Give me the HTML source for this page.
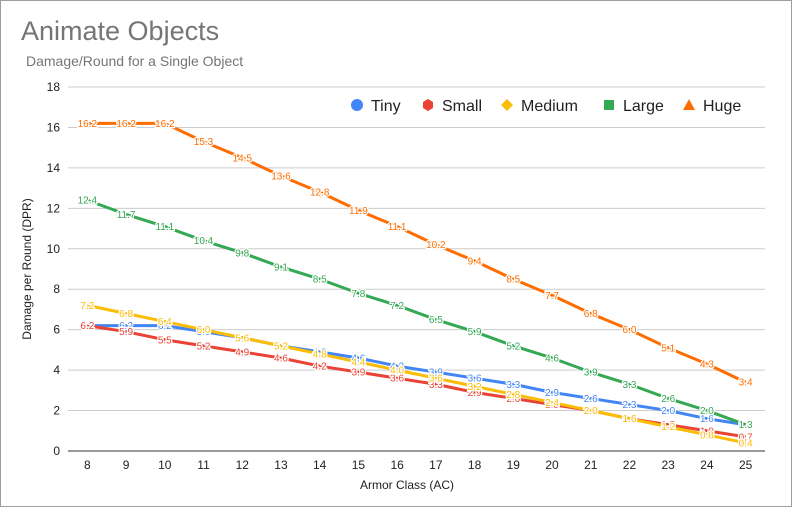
<!DOCTYPE html>
<html><head><meta charset="utf-8"><style>
body{margin:0;background:#fff;font-family:"Liberation Sans",Arial,sans-serif}
#wrap{position:relative;width:792px;height:507px}
</style></head><body>
<div id="wrap">
<svg id="chart" width="792" height="507">
<rect x="0.5" y="0.5" width="791" height="506" fill="#fff" stroke="#9e9e9e"/>
<text x="21" y="40" font-size="27" fill="#757575">Animate Objects</text>
<text x="26" y="66" font-size="14" fill="#757575">Damage/Round for a Single Object</text>
<text transform="translate(31,269) rotate(-90)" text-anchor="middle" font-size="12" fill="#222">Damage per Round (DPR)</text>
<text x="407" y="489" text-anchor="middle" font-size="12" fill="#222">Armor Class (AC)</text>
<g id="grid"></g><g id="lines"></g><g id="labels"></g><g id="legend"></g>
</svg></div>
<script>
const categories=[8,9,10,11,12,13,14,15,16,17,18,19,20,21,22,23,24,25];
const yTicks=[0,2,4,6,8,10,12,14,16,18];
const tiny=[6.2,6.2,6.2,5.9,5.6,5.2,4.9,4.6,4.2,3.9,3.6,3.3,2.9,2.6,2.3,2.0,1.6,1.3];
const small=[6.2,5.9,5.5,5.2,4.9,4.6,4.2,3.9,3.6,3.3,2.9,2.6,2.3,2.0,1.6,1.3,1.0,0.7];
const medium=[7.2,6.8,6.4,6.0,5.6,5.2,4.8,4.4,4.0,3.6,3.2,2.8,2.4,2.0,1.6,1.2,0.8,0.4];
const large=[12.4,11.7,11.1,10.4,9.8,9.1,8.5,7.8,7.2,6.5,5.9,5.2,4.6,3.9,3.3,2.6,2.0,1.3];
const huge=[16.2,16.2,16.2,15.3,14.5,13.6,12.8,11.9,11.1,10.2,9.4,8.5,7.7,6.8,6.0,5.1,4.3,3.4];
const seriesNames=["Tiny","Small","Medium","Large","Huge"];
const NS="http://www.w3.org/2000/svg";
const L=68,R=765,T=87,B=451;
const step=(R-L)/categories.length;
const xs=i=>L+step*(i+0.5);
const ys=v=>B-(v-0)/(18-0)*(B-T);
function mk(tag,attrs,parent){const e=document.createElementNS(NS,tag);for(const k in attrs)e.setAttribute(k,attrs[k]);parent.appendChild(e);return e;}
const grid=document.getElementById('grid');
yTicks.forEach(t=>{
 const ln=mk('line',{x1:L,x2:R,y1:ys(t),y2:ys(t),stroke:t===0?'#333':'#ccc','stroke-width':1},grid);
 
 
 const tx=mk('text',{x:L-8,y:ys(t)+4,'text-anchor':'end','font-size':12,fill:'#222'},grid);
 tx.textContent=t;
 
 
});
categories.forEach((c,i)=>{
 const tx=mk('text',{x:xs(i),y:B+18,'text-anchor':'middle','font-size':12,fill:'#222'},grid);
 tx.textContent=c;
 
 
});
const all=[tiny,small,medium,large,huge];
const colors=["#4285f4","#ea4335","#fbbc04","#34a853","#ff6d01"];
const lines=document.getElementById('lines'),labels=document.getElementById('labels');
all.forEach((s,k)=>{
 const p=mk('polyline',{points:s.map((v,i)=>xs(i)+','+ys(v)).join(' '),fill:'none',stroke:colors[k],'stroke-width':3,'stroke-linejoin':'round'},lines);
 
 
 s.forEach((v,i)=>{
  const tx=mk('text',{x:xs(i),y:ys(v)+3.5,'text-anchor':'middle','font-size':10,fill:colors[k],stroke:'#fff','stroke-width':2.5,'paint-order':'stroke'},labels);
  tx.textContent=v.toFixed(1);
  
  
 });
});
const leg=document.getElementById('legend');
const lx=[350,421,500,602,682];
seriesNames.forEach((n,k)=>{
 const g=mk('g',{},leg);
 
 
 const x=lx[k],y=105;
 if(k===0)mk('circle',{cx:x+7,cy:y,r:6,fill:colors[k]},g);
 else if(k===1)mk('polygon',{points:`${x+7},${y-6} ${x+12},${y-3} ${x+12},${y+3} ${x+7},${y+6} ${x+2},${y+3} ${x+2},${y-3}`,fill:colors[k]},g);
 else if(k===2)mk('polygon',{points:`${x+7},${y-6} ${x+13},${y} ${x+7},${y+6} ${x+1},${y}`,fill:colors[k]},g);
 else if(k===3)mk('rect',{x:x+2,y:y-5,width:10,height:10,fill:colors[k]},g);
 else mk('polygon',{points:`${x+7},${y-6} ${x+13},${y+5} ${x+1},${y+5}`,fill:colors[k]},g);
 const t=mk('text',{x:x+21,y:y+6,'font-size':16,fill:'#222'},g);t.textContent=n;
});
</script>
</body></html>
